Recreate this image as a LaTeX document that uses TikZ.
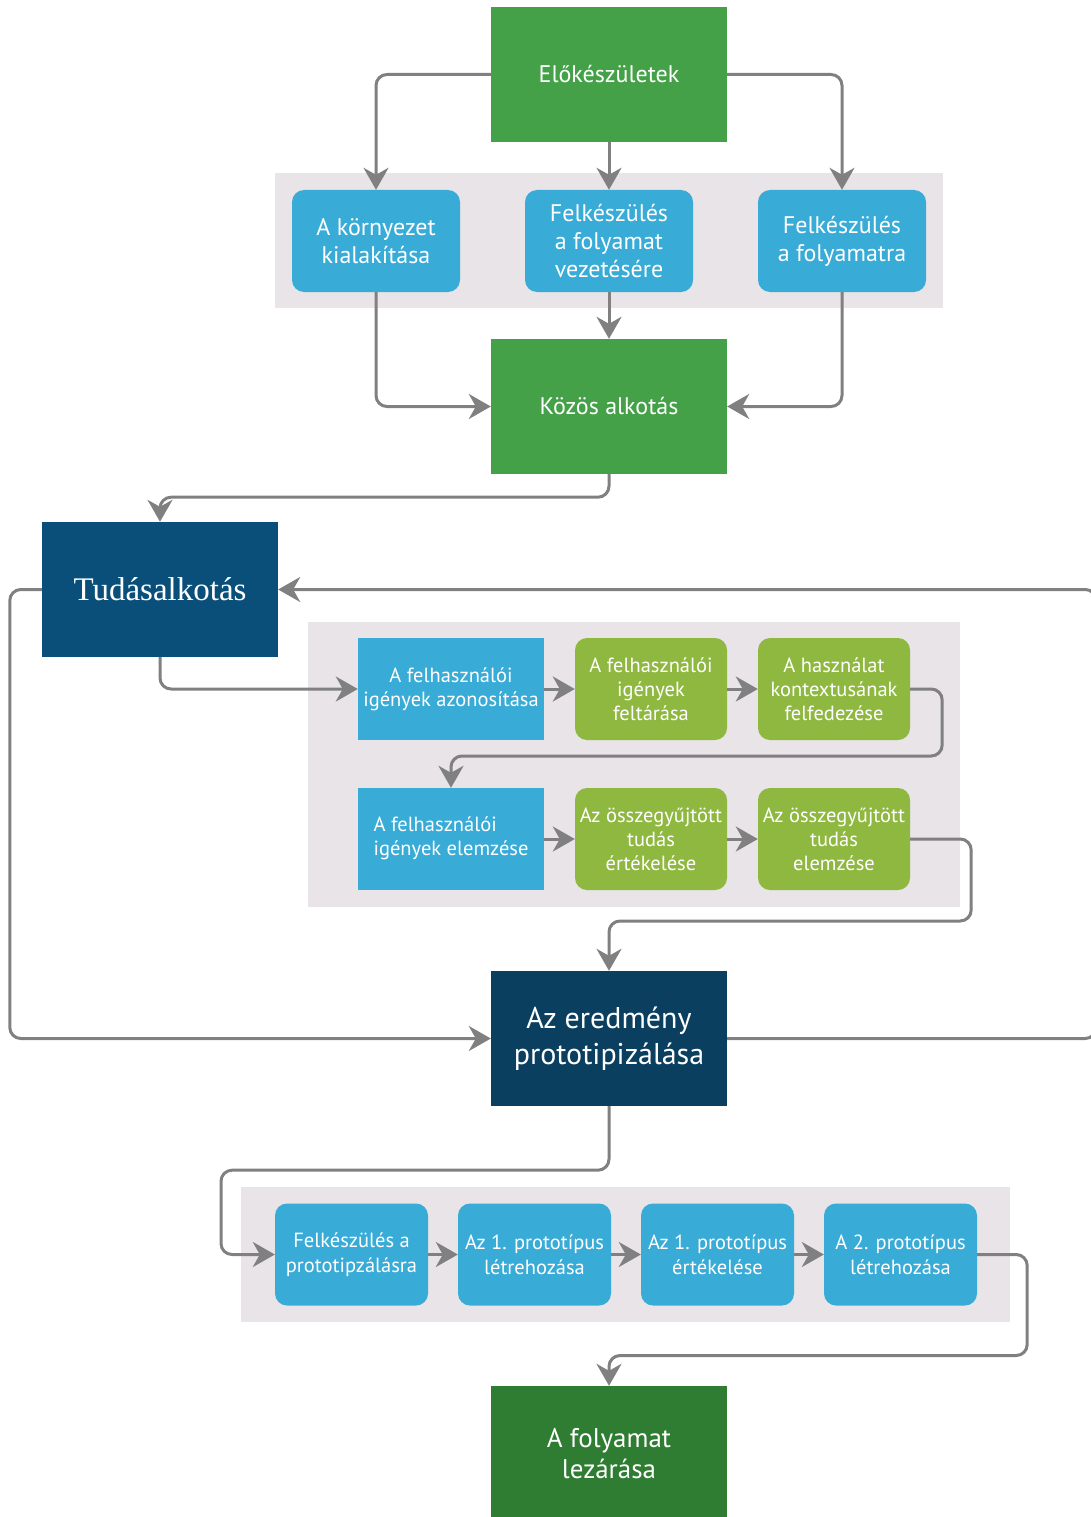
\documentclass[tikz,border=0pt]{standalone}
\usepackage{fontspec}
\setmainfont{PT Sans}
\newfontfamily\titleserif{Liberation Serif}
\usetikzlibrary{arrows.meta}

\definecolor{prepgreen}{HTML}{45A148}
\definecolor{stepblue}{HTML}{38ABD7}
\definecolor{leafgreen}{HTML}{8FB840}
\definecolor{knowblue}{HTML}{0A4F7A}
\definecolor{protoblue}{HTML}{0B3F5F}
\definecolor{closegreen}{HTML}{2E7D32}
\definecolor{panelgray}{HTML}{E8E4E8}
\definecolor{linkgray}{HTML}{808080}

\tikzset{
  phase/.style={minimum width=236pt, minimum height=135pt, inner sep=0pt,
    text=white, align=center},
  task/.style={fill=stepblue, rounded corners=12pt, minimum width=168pt,
    minimum height=102pt, inner sep=0pt, text=white, align=center,
    font=\fontsize{24}{28}\selectfont},
  substep/.style={minimum width=152pt, minimum height=102pt, inner sep=0pt,
    text=white, align=center, font=\fontsize{20.5}{24}\selectfont},
  link/.style={draw=linkgray, line width=3pt, rounded corners=11pt,
    -{Stealth[length=22pt, width=25pt, inset=7pt]}}
}

\begin{document}
\begin{tikzpicture}[x=1pt, y=-1pt]
  \useasboundingbox (0,0) rectangle (1091,1517);

  % gray panels
  \fill[panelgray] (275,173) rectangle (943,308);
  \fill[panelgray] (308,622) rectangle (960,907);
  \fill[panelgray] (241,1187) rectangle (1010,1322);

  % preparation
  \node[phase, fill=prepgreen, font=\fontsize{24}{28}\selectfont] (elok) at (609,74.5) {Előkészületek};
  \node[task] (kornyezet) at (376,241) {A környezet\\kialakítása};
  \node[task] (vezetes) at (609,241) {Felkészülés\\a folyamat\\vezetésére};
  \node[task] (folyamatra) at (842,241) {Felkészülés\\a folyamatra};
  \node[phase, fill=prepgreen, font=\fontsize{24}{28}\selectfont] (kozos) at (609,406.5) {Közös alkotás};

  % knowledge creation
  \node[phase, fill=knowblue, font=\titleserif\fontsize{33}{36}\selectfont] (tudas) at (160,589.5) {Tudásalkotás};
  \node[substep, fill=stepblue, minimum width=186pt] (azon) at (451,689) {A felhasználói\\igények azonosítása};
  \node[substep, fill=leafgreen, rounded corners=12pt] (feltar) at (651,689) {A felhasználói\\igények\\feltárása};
  \node[substep, fill=leafgreen, rounded corners=12pt] (kontext) at (834,689) {A használat\\kontextusának\\felfedezése};
  \node[substep, fill=stepblue, minimum width=186pt] (elemz) at (451,839) {\begin{tabular}{@{}l@{}}A felhasználói\\igények elemzése\end{tabular}};
  \node[substep, fill=leafgreen, rounded corners=12pt] (ertek) at (651,839) {Az összegyűjtött\\tudás\\értékelése};
  \node[substep, fill=leafgreen, rounded corners=12pt] (tudelem) at (834,839) {Az összegyűjtött\\tudás\\elemzése};

  % prototyping
  \node[phase, fill=protoblue, font=\fontsize{30}{36}\selectfont] (eredmeny) at (609,1038.5) {Az eredmény\\prototipizálása};
  \node[task, minimum width=153pt, font=\fontsize{20.5}{25}\selectfont] (proto0) at (351.5,1254.5) {Felkészülés a\\prototipzálásra};
  \node[task, minimum width=153pt, font=\fontsize{20.5}{25}\selectfont] (proto1) at (534.5,1254.5) {Az 1. prototípus\\létrehozása};
  \node[task, minimum width=153pt, font=\fontsize{20.5}{25}\selectfont] (proto2) at (717.5,1254.5) {Az 1. prototípus\\értékelése};
  \node[task, minimum width=153pt, font=\fontsize{20.5}{25}\selectfont] (proto3) at (900.5,1254.5) {A 2. prototípus\\létrehozása};

  % closing
  \node[phase, fill=closegreen, font=\fontsize{27}{31}\selectfont] (lezaras) at (609,1453.5) {A folyamat\\lezárása};

  % connectors
  \draw[link] (elok.west) -| (kornyezet.north);
  \draw[link] (elok.south) -- (vezetes.north);
  \draw[link] (elok.east) -| (folyamatra.north);
  \draw[link] (kornyezet.south) |- (kozos.west);
  \draw[link] (vezetes.south) -- (kozos.north);
  \draw[link] (folyamatra.south) |- (kozos.east);
  \draw[link] (kozos.south) -- ++(0,23) -| (tudas.north);
  \draw[link] (tudas.south) |- (azon.west);
  \draw[link] (azon.east) -- (feltar.west);
  \draw[link] (feltar.east) -- (kontext.west);
  \draw[link] (kontext.east) -- ++(32,0) -- ++(0,67) -| (elemz.north);
  \draw[link] (elemz.east) -- (ertek.west);
  \draw[link] (ertek.east) -- (tudelem.west);
  \draw[link] (tudelem.east) -- ++(61,0) -- ++(0,82) -| (eredmeny.north);
  \draw[link] (eredmeny.east) -- ++(369,0) |- (tudas.east);
  \draw[link] (tudas.west) -- ++(-32,0) |- (eredmeny.west);
  \draw[link] (eredmeny.south) -- ++(0,64) -- ++(-388,0) |- (proto0.west);
  \draw[link] (proto0.east) -- (proto1.west);
  \draw[link] (proto1.east) -- (proto2.west);
  \draw[link] (proto2.east) -- (proto3.west);
  \draw[link] (proto3.east) -- ++(50,0) -- ++(0,101) -| (lezaras.north);
\end{tikzpicture}
\end{document}
